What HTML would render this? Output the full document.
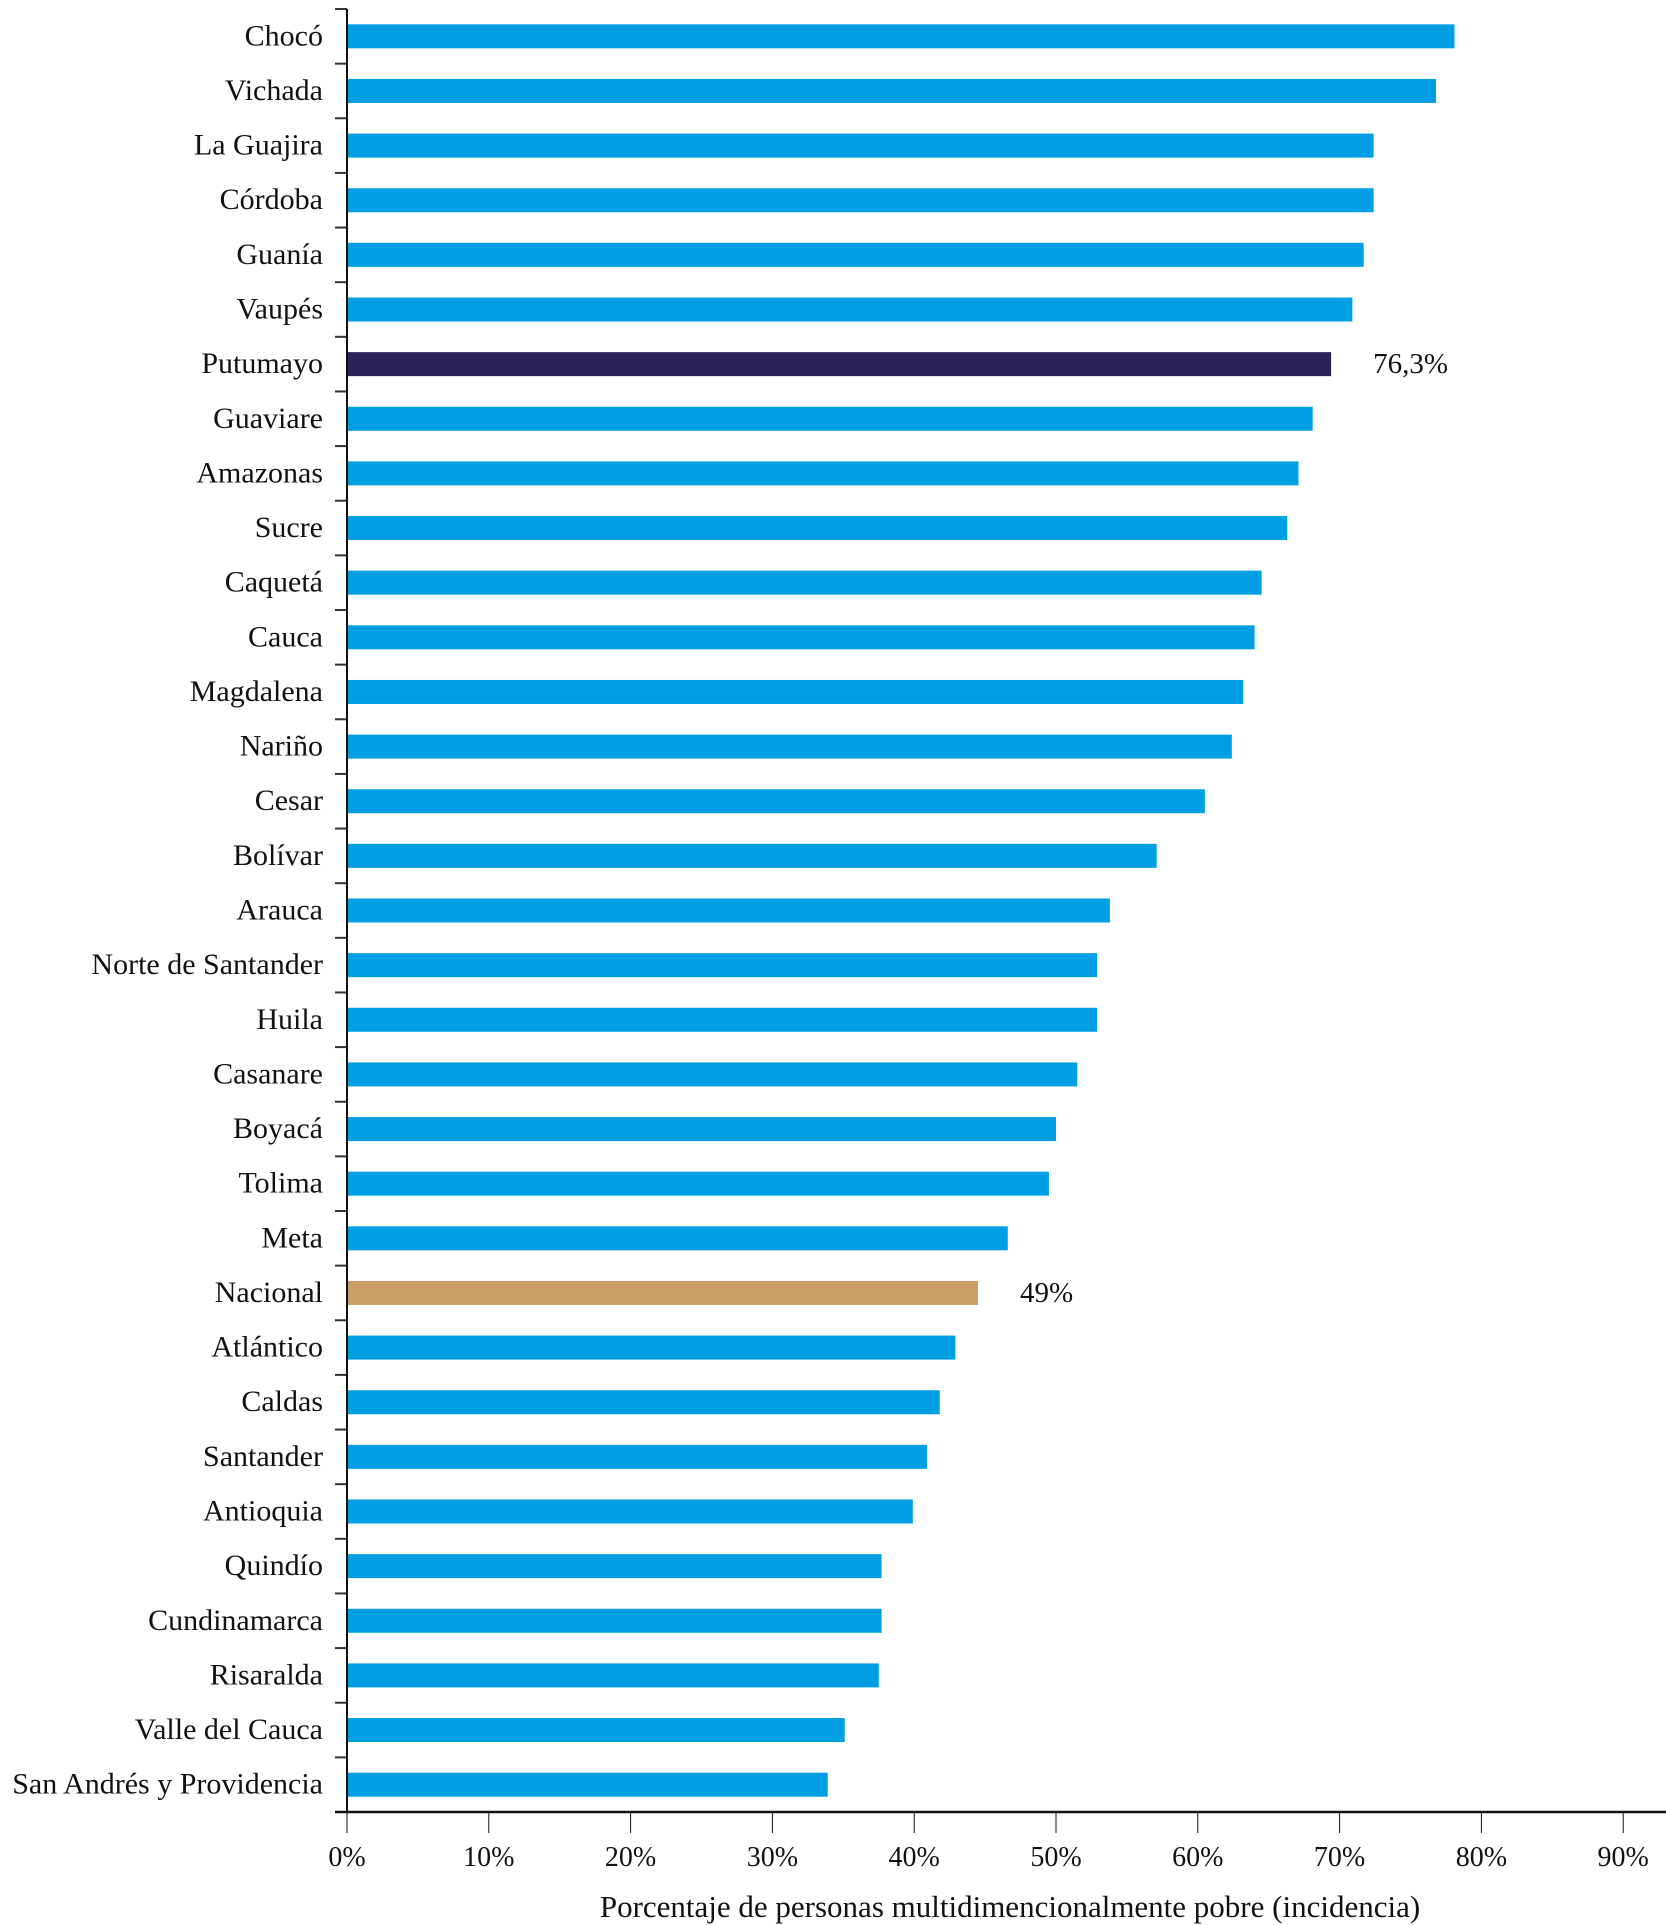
<!DOCTYPE html>
<html><head><meta charset="utf-8"><style>
html,body{margin:0;padding:0;background:#fff;}
svg{display:block;font-family:"Liberation Serif",serif;}
</style></head><body>
<svg id="chart" width="1666" height="1925"></svg>
<script>
const categories=["Chocó","Vichada","La Guajira","Córdoba","Guanía","Vaupés","Putumayo","Guaviare","Amazonas","Sucre","Caquetá","Cauca","Magdalena","Nariño","Cesar","Bolívar","Arauca","Norte de Santander","Huila","Casanare","Boyacá","Tolima","Meta","Nacional","Atlántico","Caldas","Santander","Antioquia","Quindío","Cundinamarca","Risaralda","Valle del Cauca","San Andrés y Providencia"];
const values=[78.1,76.8,72.4,72.4,71.7,70.9,69.4,68.1,67.1,66.3,64.5,64.0,63.2,62.4,60.5,57.1,53.8,52.9,52.9,51.5,50.0,49.5,46.6,44.5,42.9,41.8,40.9,39.9,37.7,37.7,37.5,35.1,33.9];
const xTicks=[0,10,20,30,40,50,60,70,80,90];
const annotations={"Putumayo":"76,3%","Nacional":"49%"};
const NS="http://www.w3.org/2000/svg";
const svg=document.getElementById('chart');
const x0=347,pxPer=14.18,plotTop=9,plotBottom=1812,band=(plotBottom-plotTop)/categories.length;
const xs=v=>x0+v*pxPer;
const yc=i=>plotTop+(i+0.5)*band;
function mk(t,a){const e=document.createElementNS(NS,t);for(const k in a)e.setAttribute(k,a[k]);svg.appendChild(e);return e;}
categories.forEach((c,i)=>{
  const col=c==="Putumayo"?"#2A2359":(c==="Nacional"?"#C89D66":"#009FE3");
  const r=mk('rect',{x:x0+1,y:yc(i)-12,width:xs(values[i])-x0-1,height:24,fill:col});
  
  
  const t=mk('text',{x:323,y:yc(i)+9,'text-anchor':'end','font-size':30,fill:'#111'});
  t.textContent=c;
  
  
  if(annotations[c]){
    const a=mk('text',{x:xs(values[i])+42,y:yc(i)+9,'font-size':29,fill:'#111'});
    a.textContent=annotations[c];
    
    
  }
});
for(let i=0;i<=categories.length;i++){
  const tk=mk('line',{x1:335,x2:347,y1:plotTop+i*band,y2:plotTop+i*band,stroke:'#333','stroke-width':2});
  
  
}
const ya=mk('line',{x1:347,x2:347,y1:plotTop,y2:plotBottom,stroke:'#111','stroke-width':2});


const xa=mk('line',{x1:335,x2:1666,y1:plotBottom,y2:plotBottom,stroke:'#111','stroke-width':2.5});


xTicks.forEach(v=>{
  const l=mk('line',{x1:xs(v),x2:xs(v),y1:plotBottom,y2:1833,stroke:'#111','stroke-width':1});
  
  
  const t=mk('text',{x:xs(v),y:1866,'text-anchor':'middle','font-size':28,fill:'#111'});
  t.textContent=v+'%';
  
  
});
const tt=mk('text',{x:1010,y:1917,'text-anchor':'middle','font-size':31,fill:'#111'});
tt.textContent="Porcentaje de personas multidimencionalmente pobre (incidencia)";


</script>
</body></html>
